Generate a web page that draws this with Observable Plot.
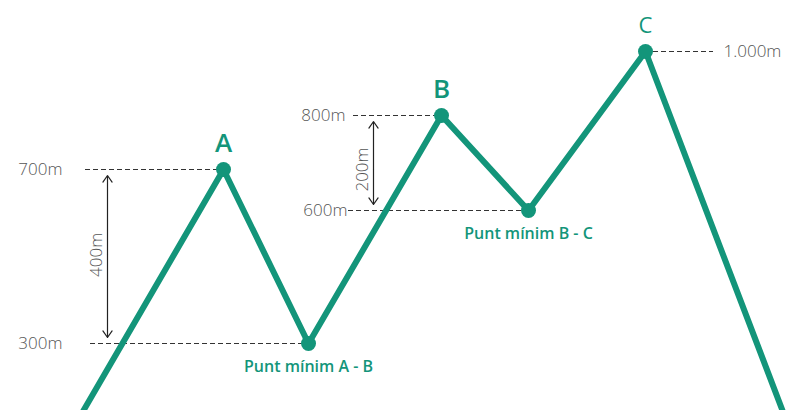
<!DOCTYPE html>
<html>
<head>
<meta charset="utf-8">
<script src="https://cdn.jsdelivr.net/npm/d3@7"></script>
<script src="https://cdn.jsdelivr.net/npm/@observablehq/plot@0.6"></script>
<style>
  html, body { margin: 0; padding: 0; background: #fff; overflow: hidden; }
</style>
</head>
<body>
<div id="chart"></div>
<script>
// Route profile (schematic, not to scale)
const pointNames = ["inici", "A", "Punt mínim A - B", "B", "Punt mínim B - C", "C", "final"];
const distance   = [0, 14, 22.5, 35.8, 44.5, 56.2, 69.9];
const elevation  = [150, 700, 300, 800, 600, 1000, 150];

// Peaks and minimums
const peakNames = ["A", "B", "C"];
const peakDist  = [14, 35.8, 56.2];
const peakElev  = [700, 800, 1000];

const minNames = ["Punt mínim A - B", "Punt mínim B - C"];
const minDist  = [22.5, 44.5];
const minElev  = [300, 600];

// Reference levels (dashed lines)
const levelValues = [700, 300, 800, 600, 1000];
const levelLabels = ["700m", "300m", "800m", "600m", "1.000m"];
const levelFrom   = [0.2, 0.7, 27, 26.5, 56.2];
const levelTo     = [14, 22.5, 35.8, 44.5, 63];
const labelDist   = [-2.1, -2.1, 26.2, 26.4, 64];
const labelAnchor = ["end", "end", "end", "end", "start"];

// Height differences (double arrows)
const spanLabels = ["400m", "200m"];
const spanFrom   = [300, 600];
const spanTo     = [700, 800];
const spanDist   = [2.4, 29];

// Schematic (not to scale) drawing height of each elevation
const schemeElev   = [150, 300, 600, 700, 800, 1000];
const schemeHeight = [0, 67, 200, 241, 295, 359];
const profile = d3.scaleLinear().domain(schemeElev).range(schemeHeight);

const green = "#13957a";
const grey = "#555";
const font = "'Open Sans', sans-serif";

const route = pointNames.map((n, i) => ({name: n, d: distance[i], e: elevation[i]}));
const dots = route.slice(1, 6);
const peaks = peakNames.map((n, i) => ({name: n, d: peakDist[i], e: peakElev[i]}));
const mins = minNames.map((n, i) => ({name: n, d: minDist[i], e: minElev[i]}));
const levels = levelValues.map((v, i) => ({v, label: levelLabels[i], x1: levelFrom[i], x2: levelTo[i], lx: labelDist[i], anchor: labelAnchor[i]}));
const spans = spanLabels.map((l, i) => ({label: l, a: spanFrom[i], b: spanTo[i], m: (spanFrom[i] + spanTo[i]) / 2, d: spanDist[i]}));

const greyText = {fill: grey, fontSize: 17, fontWeight: 300, fontFamily: font, letterSpacing: "1.2px"};

const chart = Plot.plot({
  width: 789,
  height: 410,
  margin: 0,
  style: {fontFamily: font, background: "#fff", overflow: "hidden"},
  x: {domain: [-8.3, 70.6], axis: null},
  y: {transform: profile, domain: [0, 410], axis: null},
  marks: [
    Plot.ruleY(levels, {y: "v", x1: "x1", x2: "x2", stroke: "#333", strokeWidth: 1, strokeDasharray: "5,3"}),
    Plot.text(levels.filter(d => d.anchor === "end"), {x: "lx", y: "v", text: "label", textAnchor: "end", ...greyText}),
    Plot.text(levels.filter(d => d.anchor === "start"), {x: "lx", y: "v", text: "label", textAnchor: "start", ...greyText}),
    Plot.arrow(spans, {x1: "d", x2: "d", y1: "m", y2: "b", stroke: "#222", strokeWidth: 1.2, headLength: 10, headAngle: 70, insetEnd: 6}),
    Plot.arrow(spans, {x1: "d", x2: "d", y1: "m", y2: "a", stroke: "#222", strokeWidth: 1.2, headLength: 10, headAngle: 70, insetEnd: 6}),
    Plot.text(spans, {x: "d", y: "m", text: "label", rotate: -90, dx: -11, ...greyText}),
    Plot.line(route, {x: "d", y: "e", stroke: green, strokeWidth: 6, strokeLinejoin: "round"}),
    Plot.dot(dots, {x: "d", y: "e", r: 7.5, fill: green}),
    Plot.text(peaks.slice(0, 2), {x: "d", y: "e", text: "name", dy: -26, fill: green, fontSize: 26, fontWeight: 600}),
    Plot.text(peaks.slice(2), {x: "d", y: "e", text: "name", dy: -26, fill: green, fontSize: 22, fontWeight: 500}),
    Plot.text(mins, {x: "d", y: "e", text: "name", dy: 23, fill: green, fontSize: 16, fontWeight: 600})
  ]
});
document.getElementById("chart").appendChild(chart);
</script>
</body>
</html>
